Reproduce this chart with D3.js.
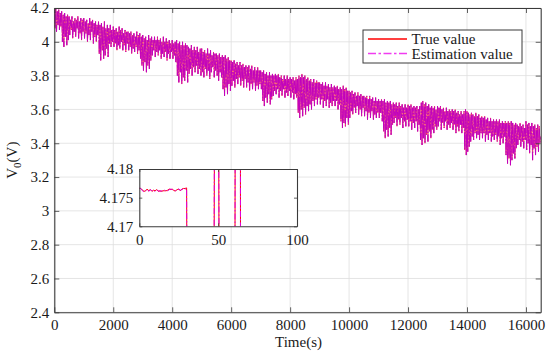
<!DOCTYPE html>
<html><head><meta charset="utf-8">
<script src="https://cdn.jsdelivr.net/npm/d3@7"></script>
<style>body{margin:0;background:#fff}svg text{font-family:"Liberation Serif","Times New Roman",serif;fill:#1a1a1a}</style>
</head><body><svg id="c" width="550" height="351"></svg>
<script>
// ---- data ----
const xTicks = [0,2000,4000,6000,8000,10000,12000,14000,16000];
const yTicks = [2.4,2.6,2.8,3,3.2,3.4,3.6,3.8,4,4.2];
const insetXTicks = [0,50,100];
const insetYTicks = [4.17,4.175,4.18];
const seriesNames = ["True value","Estimation value"];

// samples every 25 s, 0 .. 16500 s (one row = 500 s)
const trueValues = [
4.19,4.08,4.20,4.06,4.18,4.10,4.19,4.07,4.17,4.09,4.18,4.00,4.16,3.97,4.17,4.03,4.15,3.98,4.16,4.01,
4.15,4.04,4.13,4.07,4.15,4.02,4.12,4.06,4.14,4.03,4.13,4.08,4.15,4.02,4.12,4.05,4.14,4.01,4.13,4.06,
4.14,4.02,4.12,4.05,4.13,4.00,4.11,4.04,4.14,4.01,4.12,4.06,4.13,3.99,4.11,4.03,4.12,4.00,4.10,4.04,
4.12,3.93,4.10,3.89,4.11,3.95,4.09,3.90,4.12,3.92,4.08,3.96,4.10,3.91,4.08,3.99,4.10,3.97,4.07,4.00,
4.09,3.97,4.07,3.99,4.08,3.95,4.06,3.98,4.09,3.96,4.07,4.00,4.08,3.95,4.05,3.98,4.07,3.94,4.06,3.99,
4.06,3.95,4.05,3.97,4.06,3.93,4.04,3.96,4.05,3.94,4.03,3.97,4.06,3.93,4.04,3.95,4.05,3.90,4.03,3.86,
4.04,3.83,4.02,3.88,4.03,3.82,4.01,3.86,4.04,3.84,4.02,3.89,4.03,3.92,4.01,3.95,4.03,3.91,4.01,3.94,
4.03,3.92,4.01,3.95,4.02,3.90,4.00,3.93,4.03,3.91,4.00,3.94,4.02,3.89,4.00,3.93,4.01,3.90,3.99,3.94,
4.01,3.90,3.99,3.92,4.00,3.88,4.01,3.80,3.99,3.76,4.00,3.82,3.98,3.75,4.00,3.79,3.98,3.77,3.99,3.83,
3.98,3.76,3.97,3.81,3.96,3.84,3.98,3.80,3.95,3.85,3.97,3.82,3.95,3.86,3.97,3.81,3.94,3.84,3.96,3.80,
3.96,3.82,3.94,3.79,3.95,3.84,3.93,3.80,3.96,3.83,3.93,3.78,3.95,3.82,3.92,3.85,3.94,3.79,3.93,3.83,
3.93,3.80,3.92,3.77,3.93,3.82,3.91,3.79,3.92,3.72,3.91,3.68,3.92,3.73,3.90,3.69,3.91,3.75,3.89,3.71,
3.89,3.74,3.88,3.77,3.89,3.73,3.87,3.78,3.88,3.75,3.86,3.79,3.88,3.74,3.86,3.77,3.87,3.73,3.85,3.78,
3.86,3.73,3.85,3.76,3.86,3.71,3.84,3.75,3.86,3.72,3.83,3.76,3.85,3.71,3.83,3.74,3.85,3.72,3.83,3.75,
3.83,3.72,3.82,3.65,3.83,3.62,3.81,3.67,3.82,3.64,3.80,3.69,3.82,3.63,3.80,3.66,3.81,3.68,3.80,3.71,
3.81,3.69,3.80,3.72,3.81,3.67,3.79,3.71,3.80,3.68,3.78,3.72,3.80,3.67,3.78,3.70,3.80,3.68,3.78,3.71,
3.79,3.67,3.78,3.70,3.79,3.66,3.77,3.69,3.79,3.67,3.78,3.58,3.80,3.55,3.79,3.60,3.81,3.56,3.79,3.61,
3.80,3.57,3.78,3.62,3.79,3.59,3.77,3.63,3.78,3.60,3.76,3.65,3.78,3.62,3.76,3.66,3.77,3.63,3.76,3.67,
3.76,3.63,3.75,3.66,3.76,3.61,3.74,3.65,3.76,3.62,3.74,3.66,3.75,3.61,3.73,3.64,3.75,3.62,3.73,3.65,
3.74,3.62,3.73,3.65,3.74,3.60,3.72,3.63,3.73,3.53,3.72,3.49,3.74,3.52,3.72,3.50,3.73,3.55,3.71,3.51,
3.71,3.55,3.70,3.59,3.71,3.57,3.69,3.61,3.70,3.58,3.68,3.62,3.70,3.57,3.68,3.60,3.69,3.56,3.68,3.61,
3.68,3.56,3.67,3.59,3.68,3.54,3.66,3.58,3.68,3.55,3.66,3.59,3.67,3.54,3.65,3.57,3.67,3.55,3.65,3.58,
3.66,3.55,3.65,3.58,3.66,3.53,3.65,3.47,3.66,3.43,3.64,3.48,3.65,3.44,3.64,3.49,3.65,3.45,3.63,3.51,
3.64,3.52,3.63,3.55,3.64,3.50,3.62,3.54,3.64,3.51,3.62,3.55,3.63,3.49,3.61,3.53,3.63,3.50,3.61,3.54,
3.63,3.50,3.62,3.53,3.63,3.48,3.61,3.52,3.62,3.49,3.61,3.53,3.62,3.47,3.60,3.51,3.62,3.42,3.64,3.39,
3.65,3.43,3.63,3.40,3.64,3.45,3.62,3.41,3.63,3.47,3.61,3.43,3.62,3.48,3.61,3.46,3.62,3.50,3.60,3.48,
3.62,3.50,3.61,3.53,3.62,3.48,3.60,3.52,3.61,3.49,3.59,3.53,3.61,3.48,3.59,3.51,3.60,3.49,3.59,3.52,
3.60,3.48,3.59,3.51,3.60,3.46,3.58,3.50,3.59,3.47,3.57,3.51,3.59,3.46,3.57,3.49,3.59,3.36,3.60,3.33,
3.59,3.35,3.58,3.38,3.57,3.41,3.58,3.44,3.57,3.42,3.56,3.46,3.58,3.43,3.56,3.45,3.57,3.42,3.55,3.46,
3.56,3.43,3.55,3.46,3.56,3.41,3.54,3.45,3.55,3.42,3.53,3.46,3.55,3.41,3.53,3.44,3.54,3.42,3.53,3.45,
3.54,3.41,3.53,3.44,3.54,3.39,3.52,3.43,3.53,3.40,3.52,3.44,3.53,3.33,3.52,3.28,3.53,3.31,3.52,3.27,
3.53,3.30,3.52,3.34,3.51,3.31,3.52,3.37,3.51,3.39,3.50,3.42,3.52,3.38,3.50,3.41,3.51,3.37,3.49,3.42,
3.53,3.36,3.51,3.40,3.52,3.34,3.50,3.39,3.52,3.30,3.50,3.37,3.51,3.33,3.49,3.38,3.51,3.35,3.50,3.40,
3.44];
const estimateValues = [
4.19,4.08,4.20,4.06,4.18,4.10,4.19,4.07,4.17,4.09,4.18,4.00,4.16,3.97,4.17,4.03,4.15,3.98,4.16,4.01,
4.15,4.04,4.13,4.07,4.15,4.02,4.12,4.06,4.14,4.03,4.13,4.08,4.15,4.02,4.12,4.05,4.14,4.01,4.13,4.06,
4.14,4.02,4.12,4.05,4.13,4.00,4.11,4.04,4.14,4.01,4.12,4.06,4.13,3.99,4.11,4.03,4.12,4.00,4.10,4.04,
4.12,3.93,4.10,3.89,4.11,3.95,4.09,3.90,4.12,3.92,4.08,3.96,4.10,3.91,4.08,3.99,4.10,3.97,4.07,4.00,
4.09,3.97,4.07,3.99,4.08,3.95,4.06,3.98,4.09,3.96,4.07,4.00,4.08,3.95,4.05,3.98,4.07,3.94,4.06,3.99,
4.06,3.95,4.05,3.97,4.06,3.93,4.04,3.96,4.05,3.94,4.03,3.97,4.06,3.93,4.04,3.95,4.05,3.90,4.03,3.86,
4.04,3.83,4.02,3.88,4.03,3.82,4.01,3.86,4.04,3.84,4.02,3.89,4.03,3.92,4.01,3.95,4.03,3.91,4.01,3.94,
4.03,3.92,4.01,3.95,4.02,3.90,4.00,3.93,4.03,3.91,4.00,3.94,4.02,3.89,4.00,3.93,4.01,3.90,3.99,3.94,
4.01,3.90,3.99,3.92,4.00,3.88,4.01,3.80,3.99,3.76,4.00,3.82,3.98,3.75,4.00,3.79,3.98,3.77,3.99,3.83,
3.98,3.76,3.97,3.81,3.96,3.84,3.98,3.80,3.95,3.85,3.97,3.82,3.95,3.86,3.97,3.81,3.94,3.84,3.96,3.80,
3.96,3.82,3.94,3.79,3.95,3.84,3.93,3.80,3.96,3.83,3.93,3.78,3.95,3.82,3.92,3.85,3.94,3.79,3.93,3.83,
3.93,3.80,3.92,3.77,3.93,3.82,3.91,3.79,3.92,3.72,3.91,3.68,3.92,3.73,3.90,3.69,3.91,3.75,3.89,3.71,
3.89,3.74,3.88,3.77,3.89,3.73,3.87,3.78,3.88,3.75,3.86,3.79,3.88,3.74,3.86,3.77,3.87,3.73,3.85,3.78,
3.86,3.73,3.85,3.76,3.86,3.71,3.84,3.75,3.86,3.72,3.83,3.76,3.85,3.71,3.83,3.74,3.85,3.72,3.83,3.75,
3.83,3.72,3.82,3.65,3.83,3.62,3.81,3.67,3.82,3.64,3.80,3.69,3.82,3.63,3.80,3.66,3.81,3.68,3.80,3.71,
3.81,3.69,3.80,3.72,3.81,3.67,3.79,3.71,3.80,3.68,3.78,3.72,3.80,3.67,3.78,3.70,3.80,3.68,3.78,3.71,
3.79,3.67,3.78,3.70,3.79,3.66,3.77,3.69,3.79,3.67,3.78,3.58,3.80,3.55,3.79,3.60,3.81,3.56,3.79,3.61,
3.80,3.57,3.78,3.62,3.79,3.59,3.77,3.63,3.78,3.60,3.76,3.65,3.78,3.62,3.76,3.66,3.77,3.63,3.76,3.67,
3.76,3.63,3.75,3.66,3.76,3.61,3.74,3.65,3.76,3.62,3.74,3.66,3.75,3.61,3.73,3.64,3.75,3.62,3.73,3.65,
3.74,3.62,3.73,3.65,3.74,3.60,3.72,3.63,3.73,3.53,3.72,3.49,3.74,3.52,3.72,3.50,3.73,3.55,3.71,3.51,
3.71,3.55,3.70,3.59,3.71,3.57,3.69,3.61,3.70,3.58,3.68,3.62,3.70,3.57,3.68,3.60,3.69,3.56,3.68,3.61,
3.68,3.56,3.67,3.59,3.68,3.54,3.66,3.58,3.68,3.55,3.66,3.59,3.67,3.54,3.65,3.57,3.67,3.55,3.65,3.58,
3.66,3.55,3.65,3.58,3.66,3.53,3.65,3.47,3.66,3.43,3.64,3.48,3.65,3.44,3.64,3.49,3.65,3.45,3.63,3.51,
3.64,3.52,3.63,3.55,3.64,3.50,3.62,3.54,3.64,3.51,3.62,3.55,3.63,3.49,3.61,3.53,3.63,3.50,3.61,3.54,
3.63,3.50,3.62,3.53,3.63,3.48,3.61,3.52,3.62,3.49,3.61,3.53,3.62,3.47,3.60,3.51,3.62,3.42,3.64,3.39,
3.65,3.43,3.63,3.40,3.64,3.45,3.62,3.41,3.63,3.47,3.61,3.43,3.62,3.48,3.61,3.46,3.62,3.50,3.60,3.48,
3.62,3.50,3.61,3.53,3.62,3.48,3.60,3.52,3.61,3.49,3.59,3.53,3.61,3.48,3.59,3.51,3.60,3.49,3.59,3.52,
3.60,3.48,3.59,3.51,3.60,3.46,3.58,3.50,3.59,3.47,3.57,3.51,3.59,3.46,3.57,3.49,3.59,3.36,3.60,3.33,
3.59,3.35,3.58,3.38,3.57,3.41,3.58,3.44,3.57,3.42,3.56,3.46,3.58,3.43,3.56,3.45,3.57,3.42,3.55,3.46,
3.56,3.43,3.55,3.46,3.56,3.41,3.54,3.45,3.55,3.42,3.53,3.46,3.55,3.41,3.53,3.44,3.54,3.42,3.53,3.45,
3.54,3.41,3.53,3.44,3.54,3.39,3.52,3.43,3.53,3.40,3.52,3.44,3.53,3.33,3.52,3.28,3.53,3.31,3.52,3.27,
3.53,3.30,3.52,3.34,3.51,3.31,3.52,3.37,3.51,3.39,3.50,3.42,3.52,3.38,3.50,3.41,3.51,3.37,3.49,3.42,
3.53,3.36,3.51,3.40,3.52,3.34,3.50,3.39,3.52,3.30,3.50,3.37,3.51,3.33,3.49,3.38,3.51,3.35,3.50,3.40,
3.44];

// inset: first 100 s
const insetTime = [0,1,2,3,4,5,6,7,8,9,10,11,12,13,14,15,16,17,18,19,20,21,22,23,24,25,26,27,28,29,30,
  31,40,47,48,49,50,51,55,60,61,62,63,64,65,80,100];
const insetTrue = [4.1766,4.1766,4.1763,4.1761,4.1762,4.1765,4.1762,4.1764,4.1761,4.1763,4.1762,4.1764,4.1761,4.1762,4.1761,4.1762,
  4.1762,4.1762,4.1763,4.1765,4.1764,4.1765,4.1762,4.1762,4.1764,4.1765,4.1762,4.1765,4.1766,4.1766,4.1767,
  4.10,4.08,4.12,4.22,4.21,4.22,4.12,4.05,4.05,4.22,4.21,4.22,4.22,3.90,4.00,4.05];
const insetEstimate = [4.1767,4.1766,4.1762,4.1760,4.1762,4.1764,4.1761,4.1764,4.1762,4.1762,4.1761,4.1764,4.1762,4.1761,4.1762,4.1761,
  4.1763,4.1762,4.1762,4.1764,4.1765,4.1764,4.1763,4.1762,4.1763,4.1765,4.1763,4.1764,4.1766,4.1765,4.1766,
  4.10,4.08,4.125,4.22,4.21,4.22,4.125,4.05,4.055,4.22,4.21,4.22,4.22,3.91,4.00,4.05];

// ---- drawing ----
const svg = d3.select("#c");
const time = d3.range(trueValues.length).map(i => i * 25);
const P = {l:54.3, r:540.7, t:8, b:312.3};
const x = d3.scaleLinear().domain([0,16500]).range([P.l,P.r]);
const y = d3.scaleLinear().domain([2.4,4.2]).range([P.b,P.t]);
const axisColor = "#3a3a3a", gridColor = "#dedede";
const FS = 15;
const red = "#ff0000", mag = "#c000c0";

svg.append("rect").attr("width",550).attr("height",351).attr("fill","#fff");

// grid
const g = svg.append("g");
g.selectAll(".gx").data(xTicks).join("line")
  .attr("x1",d=>x(d)).attr("x2",d=>x(d)).attr("y1",P.t).attr("y2",P.b)
  .attr("stroke",gridColor).attr("stroke-width",0.8);
g.selectAll(".gy").data(yTicks).join("line")
  .attr("y1",d=>y(d)).attr("y2",d=>y(d)).attr("x1",P.l).attr("x2",P.r)
  .attr("stroke",gridColor).attr("stroke-width",0.8);

svg.append("clipPath").attr("id","clipMain").append("rect")
  .attr("x",P.l).attr("y",P.t).attr("width",P.r-P.l).attr("height",P.b-P.t);

const line = d3.line().x((d,i)=>x(time[i])).y(d=>y(d));
const dg = svg.append("g").attr("clip-path","url(#clipMain)");
dg.append("path").datum(trueValues).attr("d",line).attr("fill","none")
  .style("stroke",red).attr("stroke-width",0.5);
dg.append("path").datum(estimateValues).attr("d",line).attr("fill","none")
  .style("stroke",mag).attr("stroke-width",0.95).attr("stroke-dasharray","14,1.5,1.5,1.5");

function styleAxis(sel){
  sel.select(".domain").attr("stroke",axisColor).attr("stroke-width",1.1);
  sel.selectAll(".tick line").attr("stroke",axisColor).attr("stroke-width",0.8);
  sel.selectAll(".tick text").attr("font-size",FS).attr("fill","#1a1a1a");
}
const fmt = d => String(d);
svg.append("g").attr("transform",`translate(0,${P.b})`)
  .call(d3.axisBottom(x).tickValues(xTicks).tickFormat(fmt).tickSizeInner(-5).tickSizeOuter(0).tickPadding(7)).call(styleAxis);
svg.append("g").attr("transform",`translate(0,${P.t})`)
  .call(d3.axisTop(x).tickValues(xTicks).tickFormat("").tickSizeInner(-5).tickSizeOuter(0)).call(styleAxis);
svg.append("g").attr("transform",`translate(${P.l},0)`)
  .call(d3.axisLeft(y).tickValues(yTicks).tickFormat(fmt).tickSizeInner(-5).tickSizeOuter(0).tickPadding(5)).call(styleAxis);
svg.append("g").attr("transform",`translate(${P.r},0)`)
  .call(d3.axisRight(y).tickValues(yTicks).tickFormat("").tickSizeInner(-5).tickSizeOuter(0)).call(styleAxis);

// axis titles
svg.append("text").attr("x",(P.l+P.r)/2+1).attr("y",347).attr("text-anchor","middle")
  .attr("font-size",FS).text("Time(s)");
const yl = svg.append("text").attr("transform",`translate(17,${(P.t+P.b)/2}) rotate(-90)`)
  .attr("text-anchor","middle").attr("font-size",FS);
yl.append("tspan").text("V");
yl.append("tspan").attr("font-size",11).attr("dy",4).text("0");
yl.append("tspan").attr("dy",-4).text("(V)");

// legend
const lg = svg.append("g");
lg.append("rect").attr("x",363).attr("y",30).attr("width",159).attr("height",33)
  .attr("fill","#fff").attr("stroke",axisColor).attr("stroke-width",1);
const legendColors = [red,"#f03cf0"], legendDash = ["none","8,2.5,2.5,2.5"];
seriesNames.forEach((n,i)=>{
  const yy = 39 + i*14.5;
  lg.append("path").attr("d",`M368,${yy}H407`).attr("fill","none")
    .style("stroke",legendColors[i]).style("stroke-width","1.6px").style("stroke-dasharray",legendDash[i]);
  lg.append("text").attr("x",411.5).attr("y",yy+5).attr("font-size",FS).text(n);
});

// inset
const I = {l:139.3, r:297, t:169, b:226.3};
const xi = d3.scaleLinear().domain([0,100]).range([I.l,I.r]);
const yi = d3.scaleLinear().domain([4.17,4.18]).range([I.b,I.t]);
svg.append("rect").attr("x",I.l).attr("y",I.t).attr("width",I.r-I.l).attr("height",I.b-I.t).attr("fill","#fff");
svg.append("clipPath").attr("id","clipInset").append("rect")
  .attr("x",I.l).attr("y",I.t).attr("width",I.r-I.l).attr("height",I.b-I.t);
const lineI = d3.line().x((d,i)=>xi(insetTime[i])).y(d=>yi(d));
const ig = svg.append("g").attr("clip-path","url(#clipInset)");
ig.append("path").datum(insetTrue).attr("d",lineI).attr("fill","none")
  .style("stroke",red).attr("stroke-width",1);
ig.append("path").datum(insetEstimate).attr("d",lineI).attr("fill","none")
  .style("stroke","#e000e0").attr("stroke-width",1).attr("stroke-dasharray","6,2,1.5,2");
svg.append("g").attr("transform",`translate(0,${I.b})`)
  .call(d3.axisBottom(xi).tickValues(insetXTicks).tickFormat(fmt).tickSizeInner(-3).tickSizeOuter(0).tickPadding(8)).call(styleAxis);
svg.append("g").attr("transform",`translate(0,${I.t})`)
  .call(d3.axisTop(xi).tickValues(insetXTicks).tickFormat("").tickSizeInner(-3).tickSizeOuter(0)).call(styleAxis);
svg.append("g").attr("transform",`translate(${I.l},0)`)
  .call(d3.axisLeft(yi).tickValues(insetYTicks).tickFormat(fmt).tickSizeInner(-3).tickSizeOuter(0).tickPadding(6)).call(styleAxis);
svg.append("g").attr("transform",`translate(${I.r},0)`)
  .call(d3.axisRight(yi).tickValues(insetYTicks).tickFormat("").tickSizeInner(-3).tickSizeOuter(0)).call(styleAxis);
</script></body></html>
